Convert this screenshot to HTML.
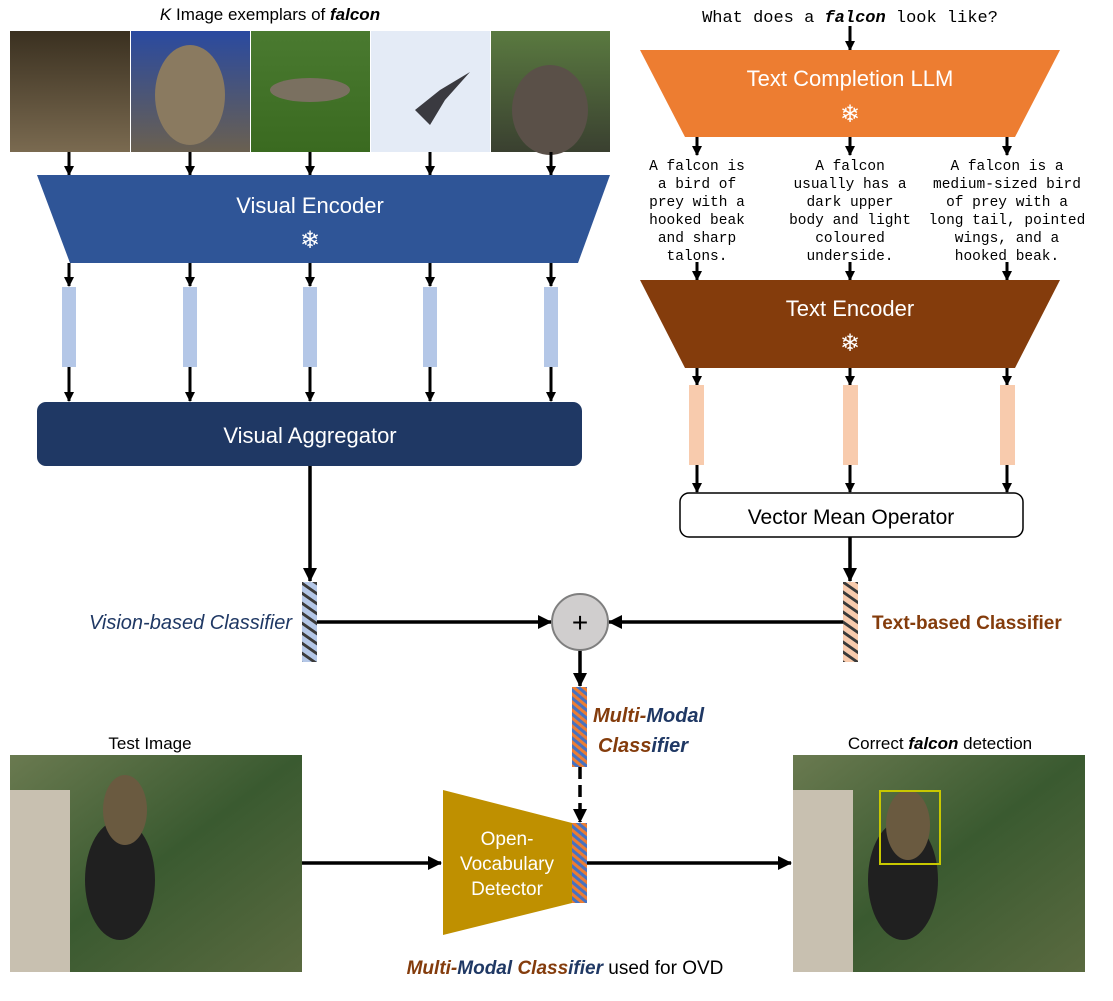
<!DOCTYPE html>
<html><head><meta charset="utf-8"><style>
body{margin:0;background:#fff}
svg{display:block}
text{font-family:"Liberation Sans",sans-serif}
text.m,.m text{font-family:"Liberation Mono",monospace;font-size:14.5px}
</style></head><body>
<svg width="1113" height="1001" viewBox="0 0 1113 1001" xmlns="http://www.w3.org/2000/svg">
<defs>
<marker id="a" markerWidth="10" markerHeight="10" refX="9" refY="5" orient="auto" markerUnits="userSpaceOnUse"><path d="M0,0 L10,5 L0,10z" fill="#000"/></marker>
<marker id="b" markerWidth="14" markerHeight="14" refX="13" refY="7" orient="auto" markerUnits="userSpaceOnUse"><path d="M0,0 L14,7 L0,14z" fill="#000"/></marker>
<pattern id="hv" width="15" height="10" patternUnits="userSpaceOnUse" patternTransform="skewY(35)"><rect width="15" height="10" fill="#b4c7e7"/><rect y="0" width="15" height="3.5" fill="#3a3a3a"/></pattern>
<pattern id="ht" width="15" height="10" patternUnits="userSpaceOnUse" patternTransform="skewY(35)"><rect width="15" height="10" fill="#f8cbad"/><rect y="0" width="15" height="3.5" fill="#3a3a3a"/></pattern>
<pattern id="hm" width="15" height="8" patternUnits="userSpaceOnUse" patternTransform="skewY(40)"><rect width="15" height="8" fill="#ed7d31"/><rect y="0" width="15" height="4" fill="#4472c4"/></pattern>
<linearGradient id="g1" x1="0" y1="0" x2="0" y2="1"><stop offset="0" stop-color="#3a3020"/><stop offset="1" stop-color="#7a6a50"/></linearGradient>
<linearGradient id="g2" x1="0" y1="0" x2="0" y2="1"><stop offset="0" stop-color="#2a4aa0"/><stop offset="1" stop-color="#6a6050"/></linearGradient>
<linearGradient id="g3" x1="0" y1="0" x2="0" y2="1"><stop offset="0" stop-color="#4a7a30"/><stop offset="1" stop-color="#3a6a20"/></linearGradient>
<linearGradient id="g5" x1="0" y1="0" x2="0" y2="1"><stop offset="0" stop-color="#5a7a40"/><stop offset="1" stop-color="#3a4030"/></linearGradient>
<linearGradient id="g6" x1="0" y1="0" x2="1" y2="1"><stop offset="0" stop-color="#6a7a50"/><stop offset="0.5" stop-color="#3a5a30"/><stop offset="1" stop-color="#5a6a40"/></linearGradient>
</defs>

<text x="270" y="20" text-anchor="middle" font-size="17"><tspan font-style="italic">K</tspan> Image exemplars of <tspan font-weight="bold" font-style="italic">falcon</tspan></text>
<rect x="10" y="31" width="120" height="121" fill="url(#g1)"/>
<rect x="131" y="31" width="119" height="121" fill="url(#g2)"/>
<ellipse cx="190" cy="95" rx="35" ry="50" fill="#8a7a60"/>
<rect x="251" y="31" width="119" height="121" fill="url(#g3)"/>
<ellipse cx="310" cy="90" rx="40" ry="12" fill="#7a7060"/>
<rect x="371" y="31" width="119" height="121" fill="#e4ebf6"/>
<path d="M415,110 L440,90 L470,72 L445,100 L430,125z" fill="#3a3a40"/>
<rect x="491" y="31" width="119" height="121" fill="url(#g5)"/>
<ellipse cx="550" cy="110" rx="38" ry="45" fill="#5a5048"/>

<g stroke="#000" stroke-width="3" marker-end="url(#a)">
<line x1="69" y1="152" x2="69" y2="175"/><line x1="190" y1="152" x2="190" y2="175"/><line x1="310" y1="152" x2="310" y2="175"/><line x1="430" y1="152" x2="430" y2="175"/><line x1="551" y1="152" x2="551" y2="175"/>
<line x1="69" y1="263" x2="69" y2="286"/><line x1="190" y1="263" x2="190" y2="286"/><line x1="310" y1="263" x2="310" y2="286"/><line x1="430" y1="263" x2="430" y2="286"/><line x1="551" y1="263" x2="551" y2="286"/>
<line x1="69" y1="367" x2="69" y2="401"/><line x1="190" y1="367" x2="190" y2="401"/><line x1="310" y1="367" x2="310" y2="401"/><line x1="430" y1="367" x2="430" y2="401"/><line x1="551" y1="367" x2="551" y2="401"/>
<line x1="850" y1="26" x2="850" y2="50"/>
<line x1="697" y1="137" x2="697" y2="155"/><line x1="850" y1="137" x2="850" y2="155"/><line x1="1007" y1="137" x2="1007" y2="155"/>
<line x1="697" y1="262" x2="697" y2="280"/><line x1="850" y1="262" x2="850" y2="280"/><line x1="1007" y1="262" x2="1007" y2="280"/>
<line x1="697" y1="368" x2="697" y2="385"/><line x1="850" y1="368" x2="850" y2="385"/><line x1="1007" y1="368" x2="1007" y2="385"/>
<line x1="697" y1="465" x2="697" y2="492"/><line x1="850" y1="465" x2="850" y2="492"/><line x1="1007" y1="465" x2="1007" y2="492"/>
</g>

<path d="M37,175 L610,175 L578,263 L70,263z" fill="#2f5597"/>
<text x="310" y="213" text-anchor="middle" font-size="22" fill="#fff">Visual Encoder</text>
<text x="310" y="248" text-anchor="middle" font-size="24" fill="#fff">❄</text>
<g fill="#b4c7e7"><rect x="62" y="287" width="14" height="80"/><rect x="183" y="287" width="14" height="80"/><rect x="303" y="287" width="14" height="80"/><rect x="423" y="287" width="14" height="80"/><rect x="544" y="287" width="14" height="80"/></g>
<rect x="37" y="402" width="545" height="64" rx="9" fill="#1f3864"/>
<text x="310" y="443" text-anchor="middle" font-size="22" fill="#fff">Visual Aggregator</text>

<text x="850" y="22" text-anchor="middle" class="m" style="font-size:17px">What does a <tspan font-weight="bold" font-style="italic">falcon</tspan> look like?</text>
<path d="M640,50 L1060,50 L1015,137 L685,137z" fill="#ed7d31"/>
<text x="850" y="86" text-anchor="middle" font-size="22" fill="#fff">Text Completion LLM</text>
<text x="850" y="122" text-anchor="middle" font-size="24" fill="#fff">❄</text>
<g class="m" text-anchor="middle">
<text x="697" y="170">A falcon is</text><text x="697" y="188">a bird of</text><text x="697" y="206">prey with a</text><text x="697" y="224">hooked beak</text><text x="697" y="242">and sharp</text><text x="697" y="260">talons.</text>
<text x="850" y="170">A falcon</text><text x="850" y="188">usually has a</text><text x="850" y="206">dark upper</text><text x="850" y="224">body and light</text><text x="850" y="242">coloured</text><text x="850" y="260">underside.</text>
<text x="1007" y="170">A falcon is a</text><text x="1007" y="188">medium-sized bird</text><text x="1007" y="206">of prey with a</text><text x="1007" y="224">long tail, pointed</text><text x="1007" y="242">wings, and a</text><text x="1007" y="260">hooked beak.</text>
</g>
<path d="M640,280 L1060,280 L1015,368 L685,368z" fill="#843c0c"/>
<text x="850" y="316" text-anchor="middle" font-size="22" fill="#fff">Text Encoder</text>
<text x="850" y="351" text-anchor="middle" font-size="24" fill="#fff">❄</text>
<g fill="#f8cbad"><rect x="689" y="385" width="15" height="80"/><rect x="843" y="385" width="15" height="80"/><rect x="1000" y="385" width="15" height="80"/></g>
<rect x="680" y="493" width="343" height="44" rx="9" fill="#fff" stroke="#000" stroke-width="1.5"/>
<text x="851" y="524" text-anchor="middle" font-size="21">Vector Mean Operator</text>

<g stroke="#000" stroke-width="3.5" fill="none" marker-end="url(#b)">
<line x1="310" y1="466" x2="310" y2="581"/>
<line x1="850" y1="537" x2="850" y2="581"/>
<line x1="317" y1="622" x2="551" y2="622"/>
<line x1="843" y1="622" x2="609" y2="622"/>
<line x1="580" y1="650" x2="580" y2="686"/>
<line x1="580" y1="767" x2="580" y2="822" stroke-dasharray="12,6"/>
<line x1="302" y1="863" x2="441" y2="863"/>
<line x1="587" y1="863" x2="791" y2="863"/>
</g>
<rect x="302" y="582" width="15" height="80" fill="url(#hv)"/>
<rect x="843" y="582" width="15" height="80" fill="url(#ht)"/>
<circle cx="580" cy="622" r="28" fill="#d0cece" stroke="#7f7f7f" stroke-width="2"/>
<text x="580" y="632" text-anchor="middle" font-size="28">+</text>
<text x="292" y="629" text-anchor="end" font-size="20" font-style="italic" fill="#1f3864">Vision-based Classifier</text>
<text x="872" y="629" font-size="19" font-weight="bold" fill="#843c0c">Text-based Classifier</text>
<rect x="572" y="687" width="15" height="80" fill="url(#hm)"/>
<text x="593" y="722" font-size="20" font-weight="bold" font-style="italic"><tspan fill="#843c0c">Multi-</tspan><tspan fill="#1f3864">Modal</tspan></text>
<text x="598" y="752" font-size="20" font-weight="bold" font-style="italic"><tspan fill="#843c0c">Class</tspan><tspan fill="#1f3864">ifier</tspan></text>

<path d="M443,790 L572,823 L572,903 L443,935z" fill="#bf9000"/>
<text x="507" y="845" text-anchor="middle" font-size="19" fill="#fff">Open-</text>
<text x="507" y="870" text-anchor="middle" font-size="19" fill="#fff">Vocabulary</text>
<text x="507" y="895" text-anchor="middle" font-size="19" fill="#fff">Detector</text>
<rect x="572" y="823" width="15" height="80" fill="url(#hm)"/>

<text x="150" y="749" text-anchor="middle" font-size="17">Test Image</text>
<rect x="10" y="755" width="292" height="217" fill="url(#g6)"/>
<rect x="10" y="790" width="60" height="182" fill="#c8c0b0"/>
<ellipse cx="120" cy="880" rx="35" ry="60" fill="#202020"/>
<ellipse cx="125" cy="810" rx="22" ry="35" fill="#6a5a40"/>
<text x="940" y="749" text-anchor="middle" font-size="17">Correct <tspan font-weight="bold" font-style="italic">falcon</tspan> detection</text>
<rect x="793" y="755" width="292" height="217" fill="url(#g6)"/>
<rect x="793" y="790" width="60" height="182" fill="#c8c0b0"/>
<ellipse cx="903" cy="880" rx="35" ry="60" fill="#202020"/>
<ellipse cx="908" cy="825" rx="22" ry="35" fill="#6a5a40"/>
<rect x="880" y="791" width="60" height="73" fill="none" stroke="#c8c800" stroke-width="2"/>

<text x="565" y="974" text-anchor="middle" font-size="19"><tspan font-weight="bold" font-style="italic" fill="#843c0c">Multi-</tspan><tspan font-weight="bold" font-style="italic" fill="#1f3864">Modal </tspan><tspan font-weight="bold" font-style="italic" fill="#843c0c">Class</tspan><tspan font-weight="bold" font-style="italic" fill="#1f3864">ifier</tspan> used for OVD</text>
</svg>
</body></html>
